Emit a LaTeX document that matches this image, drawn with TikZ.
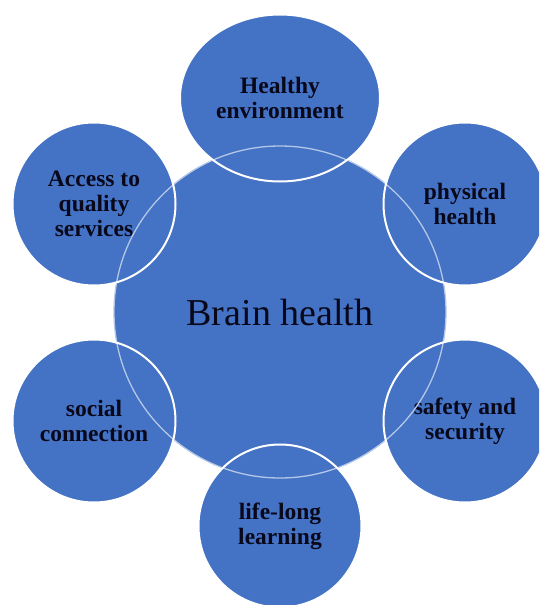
\documentclass[tikz,border=0pt]{standalone}
\usepackage{fontspec}
\setmainfont{Liberation Serif}
\usetikzlibrary{shapes.geometric}
\definecolor{hubblue}{HTML}{4472C4}
\definecolor{inkblue}{HTML}{08081A}
\tikzstyle{hub} = [circle, minimum size=332pt, inner sep=0pt, fill=hubblue, text=inkblue, font=\fontsize{38}{42}\selectfont]
\tikzstyle{factor} = [circle, minimum size=163pt, inner sep=0pt, fill=hubblue, text=inkblue, align=center, font=\fontsize{23.5}{25}\selectfont\bfseries]
\tikzstyle{hubline} = [draw=white!60!hubblue, line width=1.3pt]
\tikzstyle{factorline} = [draw=white, line width=2pt]

\begin{document}
\begin{tikzpicture}[x=1pt, y=-1pt]
	\useasboundingbox (0,0) rectangle (539,605);
	\clip (0,0) rectangle (539,605);
	\node (brain) [hub] at (280,312) {Brain health};
		\node (env) [factor, ellipse, minimum width=200pt, minimum height=167pt] at (280,98) {Healthy\\environment};
		\node (physical) [factor] at (465,204) {physical\\health};
		\node (safety) [factor] at (465,421) {safety and\\security};
		\node (learning) [factor] at (280,526) {life-long\\learning};
		\node (social) [factor] at (94,421) {social\\connection};
		\node (access) [factor] at (94,204) {Access to\\quality\\services};
	% rims go over all the fills
	\draw [hubline] (brain.center) circle [radius=166pt];
	\draw [factorline] (env.center) ellipse [x radius=100pt, y radius=83.5pt];
	\foreach \f in {physical, safety, learning, social, access}
		\draw [factorline] (\f.center) circle [radius=81.5pt];
	\end{tikzpicture}
\end{document}
